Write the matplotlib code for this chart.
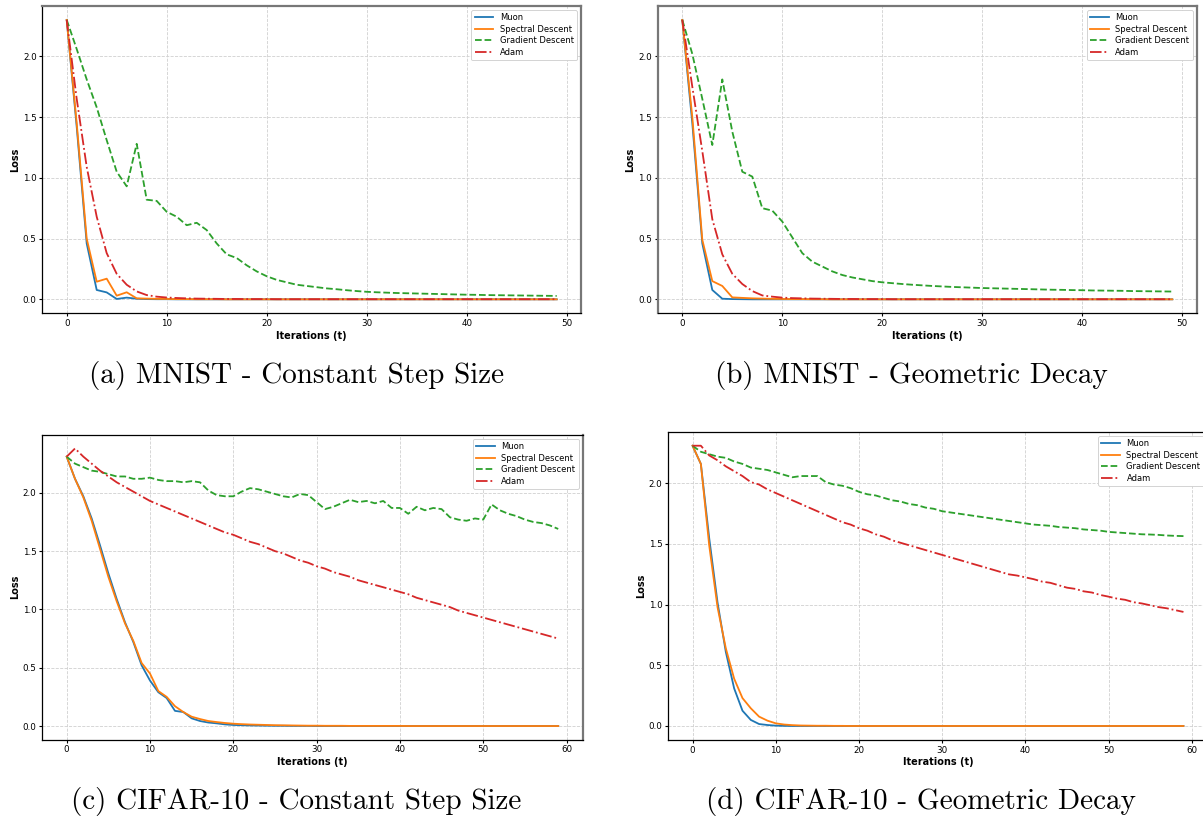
import matplotlib.pyplot as plt

W, H = 1203, 818

# ---- data ----
mnist_t = list(range(50))
cifar_t = list(range(60))

mnist_const_muon = [2.30, 1.42, 0.46, 0.077, 0.057, 0.003, 0.014, 0.005, 0.002, 0.001,
                    0.001, 0.0, 0.0, 0.0, 0.0, 0.0, 0.0, 0.0, 0.0, 0.0,
                    0.0, 0.0, 0.0, 0.0, 0.0, 0.0, 0.0, 0.0, 0.0, 0.0,
                    0.0, 0.0, 0.0, 0.0, 0.0, 0.0, 0.0, 0.0, 0.0, 0.0,
                    0.0, 0.0, 0.0, 0.0, 0.0, 0.0, 0.0, 0.0, 0.0, 0.0]
mnist_const_spectral = [2.30, 1.45, 0.50, 0.145, 0.17, 0.03, 0.058, 0.008, 0.006, 0.004,
                        0.003, 0.002, 0.002, 0.001, 0.001, 0.001, 0.0, 0.0, 0.0, 0.0,
                        0.0, 0.0, 0.0, 0.0, 0.0, 0.0, 0.0, 0.0, 0.0, 0.0,
                        0.0, 0.0, 0.0, 0.0, 0.0, 0.0, 0.0, 0.0, 0.0, 0.0,
                        0.0, 0.0, 0.0, 0.0, 0.0, 0.0, 0.0, 0.0, 0.0, 0.0]
mnist_const_gd = [2.30, 2.06, 1.81, 1.58, 1.31, 1.05, 0.93, 1.28, 0.82, 0.81,
                  0.72, 0.68, 0.61, 0.63, 0.57, 0.46, 0.37, 0.34, 0.28, 0.23,
                  0.19, 0.16, 0.14, 0.12, 0.11, 0.10, 0.09, 0.083, 0.075, 0.068,
                  0.062, 0.058, 0.055, 0.052, 0.050, 0.048, 0.046, 0.044, 0.042, 0.040,
                  0.038, 0.037, 0.035, 0.034, 0.033, 0.032, 0.031, 0.030, 0.029, 0.028]
mnist_const_adam = [2.30, 1.65, 1.09, 0.68, 0.38, 0.21, 0.12, 0.065, 0.035, 0.022,
                    0.015, 0.011, 0.008, 0.006, 0.005, 0.004, 0.003, 0.003, 0.002, 0.002,
                    0.002, 0.001, 0.001, 0.001, 0.001, 0.001, 0.001, 0.001, 0.001, 0.001,
                    0.001, 0.001, 0.001, 0.001, 0.001, 0.001, 0.001, 0.001, 0.001, 0.001,
                    0.001, 0.001, 0.001, 0.001, 0.001, 0.001, 0.001, 0.001, 0.001, 0.001]

mnist_geo_muon = [2.30, 1.45, 0.46, 0.077, 0.005, 0.002, 0.001, 0.0, 0.0, 0.0,
                  0.0, 0.0, 0.0, 0.0, 0.0, 0.0, 0.0, 0.0, 0.0, 0.0,
                  0.0, 0.0, 0.0, 0.0, 0.0, 0.0, 0.0, 0.0, 0.0, 0.0,
                  0.0, 0.0, 0.0, 0.0, 0.0, 0.0, 0.0, 0.0, 0.0, 0.0,
                  0.0, 0.0, 0.0, 0.0, 0.0, 0.0, 0.0, 0.0, 0.0, 0.0]
mnist_geo_spectral = [2.30, 1.50, 0.49, 0.15, 0.11, 0.016, 0.012, 0.008, 0.006, 0.004,
                      0.003, 0.002, 0.002, 0.001, 0.001, 0.0, 0.0, 0.0, 0.0, 0.0,
                      0.0, 0.0, 0.0, 0.0, 0.0, 0.0, 0.0, 0.0, 0.0, 0.0,
                      0.0, 0.0, 0.0, 0.0, 0.0, 0.0, 0.0, 0.0, 0.0, 0.0,
                      0.0, 0.0, 0.0, 0.0, 0.0, 0.0, 0.0, 0.0, 0.0, 0.0]
mnist_geo_gd = [2.30, 2.02, 1.65, 1.27, 1.81, 1.38, 1.05, 1.01, 0.75, 0.73,
                0.64, 0.51, 0.38, 0.31, 0.27, 0.23, 0.20, 0.18, 0.165, 0.15,
                0.14, 0.133, 0.126, 0.12, 0.115, 0.11, 0.106, 0.102, 0.099, 0.096,
                0.093, 0.091, 0.089, 0.087, 0.085, 0.083, 0.081, 0.079, 0.078, 0.076,
                0.075, 0.073, 0.072, 0.071, 0.070, 0.068, 0.067, 0.066, 0.065, 0.064]
mnist_geo_adam = [2.30, 1.75, 1.22, 0.66, 0.37, 0.21, 0.126, 0.068, 0.032, 0.022,
                  0.014, 0.010, 0.008, 0.006, 0.005, 0.004, 0.003, 0.003, 0.002, 0.002,
                  0.002, 0.001, 0.001, 0.001, 0.001, 0.001, 0.001, 0.001, 0.001, 0.001,
                  0.001, 0.001, 0.001, 0.001, 0.001, 0.001, 0.001, 0.001, 0.001, 0.001,
                  0.001, 0.001, 0.001, 0.001, 0.001, 0.001, 0.001, 0.001, 0.001, 0.001]

cifar_const_muon = [2.31, 2.12, 1.97, 1.78, 1.55, 1.31, 1.09, 0.89, 0.72, 0.52,
                    0.39, 0.29, 0.24, 0.13, 0.12, 0.066, 0.043, 0.030, 0.023, 0.014,
                    0.009, 0.007, 0.005, 0.004, 0.003, 0.002, 0.002, 0.001, 0.001, 0.001,
                    0.0, 0.0, 0.0, 0.0, 0.0, 0.0, 0.0, 0.0, 0.0, 0.0,
                    0.0, 0.0, 0.0, 0.0, 0.0, 0.0, 0.0, 0.0, 0.0, 0.0,
                    0.0, 0.0, 0.0, 0.0, 0.0, 0.0, 0.0, 0.0, 0.0, 0.0]
cifar_const_spectral = [2.31, 2.12, 1.96, 1.76, 1.52, 1.28, 1.07, 0.88, 0.73, 0.54,
                        0.45, 0.30, 0.25, 0.17, 0.12, 0.08, 0.06, 0.043, 0.034, 0.026,
                        0.020, 0.016, 0.013, 0.011, 0.009, 0.007, 0.006, 0.005, 0.004, 0.003,
                        0.003, 0.002, 0.002, 0.002, 0.001, 0.001, 0.001, 0.001, 0.001, 0.001,
                        0.001, 0.0, 0.0, 0.0, 0.0, 0.0, 0.0, 0.0, 0.0, 0.0,
                        0.0, 0.0, 0.0, 0.0, 0.0, 0.0, 0.0, 0.0, 0.0, 0.0]
cifar_const_gd = [2.31, 2.25, 2.22, 2.19, 2.18, 2.16, 2.14, 2.14, 2.12, 2.12,
                  2.13, 2.11, 2.10, 2.10, 2.09, 2.10, 2.09, 2.02, 1.98, 1.97,
                  1.97, 2.01, 2.04, 2.03, 2.01, 1.99, 1.97, 1.96, 1.99, 1.98,
                  1.92, 1.86, 1.88, 1.91, 1.94, 1.92, 1.93, 1.91, 1.93, 1.87,
                  1.87, 1.82, 1.88, 1.85, 1.87, 1.86, 1.79, 1.77, 1.76, 1.78,
                  1.77, 1.90, 1.85, 1.82, 1.80, 1.77, 1.75, 1.74, 1.72, 1.69]
cifar_const_adam = [2.31, 2.38, 2.31, 2.25, 2.19, 2.14, 2.09, 2.05, 2.01, 1.97,
                    1.93, 1.90, 1.87, 1.84, 1.81, 1.78, 1.75, 1.72, 1.69, 1.66,
                    1.64, 1.61, 1.58, 1.56, 1.53, 1.50, 1.48, 1.45, 1.42, 1.40,
                    1.37, 1.35, 1.32, 1.30, 1.28, 1.25, 1.23, 1.21, 1.19, 1.17,
                    1.15, 1.13, 1.10, 1.08, 1.06, 1.04, 1.02, 0.99, 0.97, 0.95,
                    0.93, 0.91, 0.89, 0.87, 0.85, 0.83, 0.81, 0.79, 0.77, 0.75]

cifar_geo_muon = [2.31, 2.16, 1.55, 1.02, 0.61, 0.31, 0.126, 0.05, 0.016, 0.008,
                  0.003, 0.001, 0.0, 0.0, 0.0, 0.0, 0.0, 0.0, 0.0, 0.0,
                  0.0, 0.0, 0.0, 0.0, 0.0, 0.0, 0.0, 0.0, 0.0, 0.0,
                  0.0, 0.0, 0.0, 0.0, 0.0, 0.0, 0.0, 0.0, 0.0, 0.0,
                  0.0, 0.0, 0.0, 0.0, 0.0, 0.0, 0.0, 0.0, 0.0, 0.0,
                  0.0, 0.0, 0.0, 0.0, 0.0, 0.0, 0.0, 0.0, 0.0, 0.0]
cifar_geo_spectral = [2.31, 2.16, 1.49, 0.98, 0.64, 0.39, 0.23, 0.146, 0.077, 0.044,
                      0.022, 0.012, 0.007, 0.004, 0.003, 0.002, 0.002, 0.001, 0.001, 0.0,
                      0.0, 0.0, 0.0, 0.0, 0.0, 0.0, 0.0, 0.0, 0.0, 0.0,
                      0.0, 0.0, 0.0, 0.0, 0.0, 0.0, 0.0, 0.0, 0.0, 0.0,
                      0.0, 0.0, 0.0, 0.0, 0.0, 0.0, 0.0, 0.0, 0.0, 0.0,
                      0.0, 0.0, 0.0, 0.0, 0.0, 0.0, 0.0, 0.0, 0.0, 0.0]
cifar_geo_gd = [2.31, 2.26, 2.24, 2.22, 2.21, 2.18, 2.16, 2.13, 2.12, 2.11,
                2.09, 2.07, 2.05, 2.06, 2.06, 2.06, 2.01, 1.99, 1.98, 1.96,
                1.93, 1.91, 1.90, 1.88, 1.86, 1.85, 1.83, 1.82, 1.80, 1.79,
                1.77, 1.76, 1.75, 1.74, 1.73, 1.72, 1.71, 1.70, 1.69, 1.68,
                1.67, 1.66, 1.655, 1.65, 1.64, 1.635, 1.63, 1.62, 1.615, 1.61,
                1.60, 1.595, 1.59, 1.585, 1.58, 1.578, 1.575, 1.57, 1.567, 1.565]
cifar_geo_adam = [2.31, 2.31, 2.23, 2.19, 2.14, 2.10, 2.06, 2.01, 1.99, 1.95,
                  1.92, 1.89, 1.86, 1.83, 1.80, 1.77, 1.74, 1.71, 1.68, 1.66,
                  1.63, 1.61, 1.58, 1.56, 1.53, 1.51, 1.49, 1.47, 1.45, 1.43,
                  1.41, 1.39, 1.37, 1.35, 1.33, 1.31, 1.29, 1.27, 1.25, 1.24,
                  1.225, 1.21, 1.19, 1.18, 1.16, 1.14, 1.13, 1.11, 1.10, 1.08,
                  1.066, 1.05, 1.04, 1.02, 1.01, 0.995, 0.98, 0.97, 0.955, 0.94]

captions = ["(a) MNIST - Constant Step Size", "(b) MNIST - Geometric Decay",
            "(c) CIFAR-10 - Constant Step Size", "(d) CIFAR-10 - Geometric Decay"]
labels = ["Muon", "Spectral Descent", "Gradient Descent", "Adam"]


def px_rect(left, top, right, bottom):
    return [left / W, 1 - bottom / H, (right - left) / W, (bottom - top) / H]


fig = plt.figure(figsize=(W / 100, H / 100), dpi=100)

# axes box in pixels, x values, series, caption centre, grey spines
panels = [
    (px_rect(42.2, 5.9, 581.2, 313.3), mnist_t,
     [mnist_const_muon, mnist_const_spectral, mnist_const_gd, mnist_const_adam],
     (297, 376), ["top", "right"]),
    (px_rect(657.8, 5.9, 1196.8, 313.3), mnist_t,
     [mnist_geo_muon, mnist_geo_spectral, mnist_geo_gd, mnist_geo_adam],
     (911, 376), ["top", "right", "left"]),
    (px_rect(42.1, 434.6, 582.8, 739.9), cifar_t,
     [cifar_const_muon, cifar_const_spectral, cifar_const_gd, cifar_const_adam],
     (296, 802), ["right"]),
    (px_rect(668.0, 431.7, 1208.0, 740.0), cifar_t,
     [cifar_geo_muon, cifar_geo_spectral, cifar_geo_gd, cifar_geo_adam],
     (921, 802), []),
]

styles = [dict(color="#1f77b4", ls="-"), dict(color="#ff7f0e", ls="-"),
          dict(color="#2ca02c", ls="--"), dict(color="#d62728", ls="-.")]

for i, (rect, t, series, cap_xy, gray_spines) in enumerate(panels):
    ax = fig.add_axes(rect)
    for ys, lab, st in zip(series, labels, styles):
        ax.plot(t, ys, label=lab, lw=1.3, **st)
    ax.set_xlabel("Iterations (t)", fontsize=7, fontweight="bold", labelpad=2)
    ax.set_ylabel("Loss", fontsize=7, fontweight="bold", labelpad=2)
    ax.tick_params(labelsize=6.3, length=2.5, width=0.8, pad=1.5)
    ax.grid(True, ls="--", color="#d0d0d0", lw=0.6)
    leg = ax.legend(loc="upper right", fontsize=6, framealpha=1,
                    handlelength=2.2, borderpad=0.4, labelspacing=0.3)
    leg.get_frame().set_linewidth(0.6)
    for name, sp in ax.spines.items():
        if name in gray_spines:
            sp.set_color("#777777")
            sp.set_linewidth(1.6)
        else:
            sp.set_color("black")
            sp.set_linewidth(0.9)
    fig.text(cap_xy[0] / W, 1 - cap_xy[1] / H, captions[i],
             fontfamily="cmr10", fontsize=21, ha="center", va="center")

fig.savefig("out.png", dpi=100)
